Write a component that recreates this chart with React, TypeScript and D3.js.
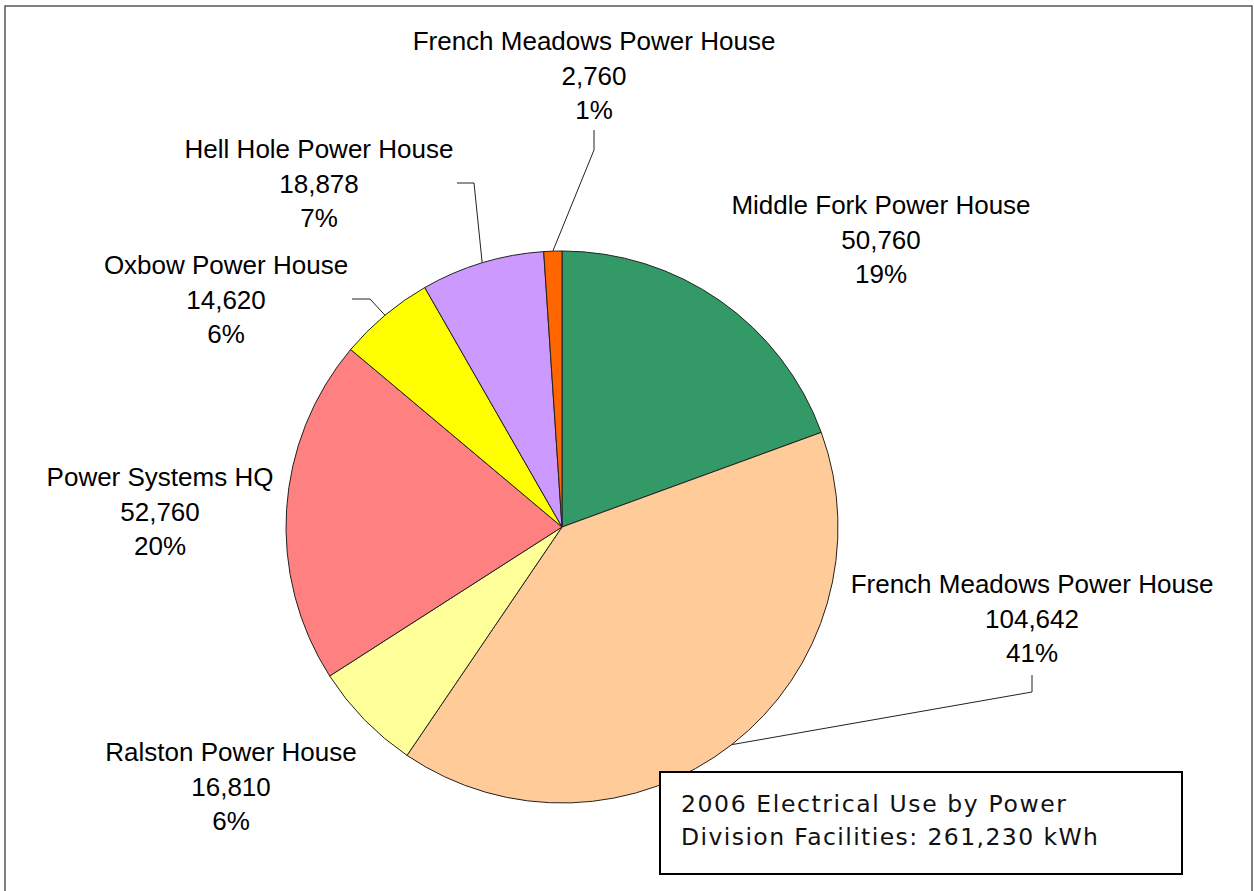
import * as d3 from "d3";

// 2006 electrical use by facility (kWh), clockwise from 12 o'clock
const facilities = [
  "Middle Fork Power House",
  "French Meadows Power House",
  "Ralston Power House",
  "Power Systems HQ",
  "Oxbow Power House",
  "Hell Hole Power House",
  "French Meadows Power House",
];
const usage = [50760, 104642, 16810, 52760, 14620, 18878, 2760];
const percentLabels = ["19%", "41%", "6%", "20%", "6%", "7%", "1%"];
const colors = ["#339966", "#FFCC99", "#FFFF99", "#FF8080", "#FFFF00", "#CC99FF", "#FF6600"];
const titleLines = ["2006 Electrical Use by Power", "Division Facilities: 261,230 kWh"];

// label placement (centre x, first baseline) and leader elbows, as moved by hand in the original
const labelPos: [number, number][] = [
  [881, 214],
  [1032, 593],
  [231, 761],
  [160, 486],
  [226, 274],
  [319, 158],
  [594, 50],
];
const leaderElbows: ([number, number][] | null)[] = [
  null,
  [[1032, 675], [1032, 692]],
  null,
  null,
  [[352, 299], [370, 299]],
  [[457, 183], [474, 183]],
  [[594, 130], [594, 150]],
];

export default function App() {
  const W = 1254, H = 891;
  const cx = 562, cy = 527, r = 276;
  const lineH = 34.5;
  const fmt = d3.format(",");

  const rows = facilities.map((name, i) => ({ name, value: usage[i], i }));
  const pie = d3.pie<any>().sort(null).value((d: any) => d.value);
  const arcs = pie(rows);
  const arc = d3.arc<any>().innerRadius(0).outerRadius(r);
  const leader = d3.line();

  return (
    <div style={{ position: "absolute", left: 0, top: 0 }}>
      <svg width={W} height={H} viewBox={`0 0 ${W} ${H}`} style={{ display: "block", background: "#fff" }}>
        <rect x={5} y={6} width={1247} height={900} fill="#fff" stroke="#555" strokeWidth={1.5} />
        <g transform={`translate(${cx},${cy})`}>
          {arcs.map((a, i) => (
            <path key={i} d={arc(a) as string} fill={colors[i]} stroke="#222" strokeWidth={1} />
          ))}
        </g>
        {arcs.map((a, i) => {
          const el = leaderElbows[i];
          if (!el) return null;
          const mid = (a.startAngle + a.endAngle) / 2;
          const end: [number, number] = [cx + r * Math.sin(mid), cy - r * Math.cos(mid)];
          return (
            <path key={"l" + i} d={leader([...el, end]) as string} fill="none" stroke="#222" strokeWidth={1} />
          );
        })}
        {rows.map((d, i) => {
          const [x, y] = labelPos[i];
          return (
            <text
              key={"t" + i}
              x={x}
              y={y}
              textAnchor="middle"
              fontFamily="'Liberation Sans', Arial, sans-serif"
              fontSize={26}
              fill="#000"
            >
              <tspan x={x} y={y}>{d.name}</tspan>
              <tspan x={x} y={y + lineH}>{fmt(d.value)}</tspan>
              <tspan x={x} y={y + lineH * 2}>{percentLabels[i]}</tspan>
            </text>
          );
        })}
        <rect x={660} y={772} width={522} height={102} fill="#fff" stroke="#000" strokeWidth={2} />
        <text fontFamily="'DejaVu Sans', Verdana, sans-serif" fontSize={23.5} fill="#111">
          <tspan x={681} y={812} textLength={385} lengthAdjust="spacing">{titleLines[0]}</tspan>
          <tspan x={681} y={845} textLength={417} lengthAdjust="spacing">{titleLines[1]}</tspan>
        </text>
      </svg>
    </div>
  );
}
